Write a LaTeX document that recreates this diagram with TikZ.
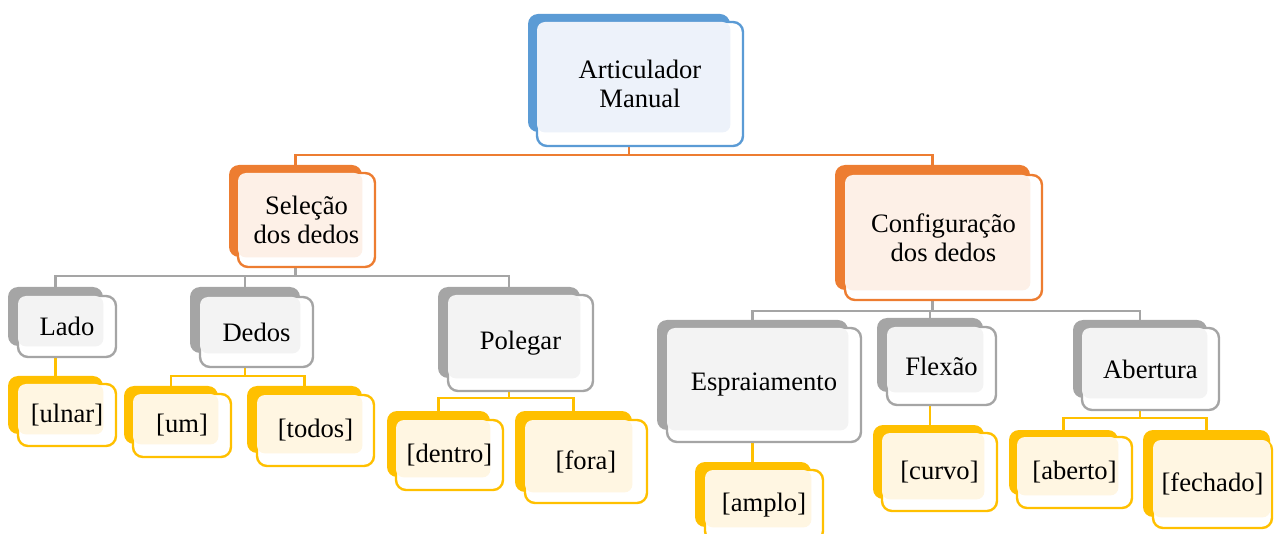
\documentclass[tikz,border=0pt]{standalone}
\usepackage{fontspec}
\setmainfont{Liberation Serif}
\usetikzlibrary{fit,calc,backgrounds}

\definecolor{bluedark}{RGB}{91,155,213}
\definecolor{bluelight}{RGB}{237,242,250}
\definecolor{orgdark}{RGB}{237,125,49}
\definecolor{orglight}{RGB}{253,240,231}
\definecolor{graydark}{RGB}{165,165,165}
\definecolor{graylight}{RGB}{243,243,243}
\definecolor{yeldark}{RGB}{255,192,0}
\definecolor{yellight}{RGB}{255,246,226}

\tikzset{
  backbox/.style={rectangle, rounded corners=5pt, inner sep=0pt, fill=#1dark},
  frontbox/.style={rectangle, rounded corners=5pt, inner sep=0pt, fill=white,
                   draw=#1dark, line width=1.2pt},
  boxtext/.style={align=center, inner sep=0pt,
                  font=\fontsize{13.3}{14.5}\selectfont},
  link/.style={draw=#1dark, line width=1.3pt},
}

% #1 name, #2 colour family, #3/#4 back corners, #5/#6 front corners, #7 text
\newcommand\smartbox[7]{%
  \node[fit={(#3) (#4)}, backbox=#2] (#1-b) {};
  \node[fit={(#5) (#6)}, frontbox=#2] (#1) {};
  \fill[#2light, rounded corners=4pt]
    ([shift={(0.6pt,-0.6pt)}]#1.north west) rectangle (#1-b.south east);
  \node[boxtext] (#1-t) at (#1) {#7};
}

\begin{document}
\begin{tikzpicture}[x=0.5pt,y=-0.5pt]
\useasboundingbox (0,0) rectangle (1275,534);
\clip (0,0) rectangle (1275,534);

% level 0 and 1
\smartbox{art}{blue}{528,14}{730,132}{537,22}{743,146}{Articulador\\Manual}
\smartbox{sel}{org}{229,165}{362,257}{238,173}{375,267}{Seleção\\dos dedos}
\smartbox{conf}{org}{835,165}{1030,290}{845,175}{1042,300}{Configuração\\dos dedos}

% level 2
\smartbox{lado}{gray}{8,287}{103,346}{18,296}{116,357}{Lado}
\smartbox{dedos}{gray}{190,287}{300,353}{200,297}{313,367}{Dedos}
\smartbox{pol}{gray}{438,287}{580,378}{448,295}{593,391}{Polegar}
\smartbox{esp}{gray}{657,320}{848,430}{667,328}{861,442}{Espraiamento}
\smartbox{flex}{gray}{877,318}{983,392}{887,327}{996,405}{Flexão}
\smartbox{abe}{gray}{1073,320}{1207,398}{1082,328}{1219,410}{Abertura}

% level 3
\smartbox{ulnar}{yel}{8,376}{103,434}{18,384}{116,446}{[ulnar]}
\smartbox{um}{yel}{124,386}{218,444}{133,394}{231,457}{[um]}
\smartbox{todos}{yel}{247,386}{362,453}{257,395}{374,466}{[todos]}
\smartbox{dentro}{yel}{387,411}{490,477}{396,420}{503,490}{[dentro]}
\smartbox{fora}{yel}{515,411}{632,492}{525,420}{647,503}{[fora]}
\smartbox{amplo}{yel}{695,462}{811,527}{705,470}{823,541}{[amplo]}
\smartbox{curvo}{yel}{873,425}{984,499}{882,433}{997,511}{[curvo]}
\smartbox{aberto}{yel}{1009,430}{1118,495}{1017,437}{1132,508}{[aberto]}
\smartbox{fechado}{yel}{1143,430}{1270,517}{1153,440}{1272,528}{[fechado]}

% bus levels of the connectors
\coordinate (busA) at (0,155);
\coordinate (busB) at (0,276);
\coordinate (busC) at (0,311);
\coordinate (busD) at (0,376);
\coordinate (busE) at (0,398);
\coordinate (busF) at (0,418);

\begin{scope}[on background layer]
  \draw[link=org] (art-b.south) -- (art-b.south |- busA);
  \draw[link=org] (sel-b.north) -- (sel-b.north |- busA) -| (conf-b.north);

  \draw[link=gray] (sel-b.south) -- (sel-b.south |- busB);
  \draw[link=gray] (lado-b.north) -- (lado-b.north |- busB) -| (pol-b.north);
  \draw[link=gray] (dedos-b.north) -- (dedos-b.north |- busB);

  \draw[link=gray] (conf-b.south) -- (conf-b.south |- busC);
  \draw[link=gray] (esp-b.north) -- (esp-b.north |- busC) -| (abe-b.north);
  \draw[link=gray] (flex-b.north) -- (flex-b.north |- busC);

  \draw[link=yel] (lado-b.south) -- (lado-b.south |- ulnar-b.north);
  \draw[link=yel] (dedos-b.south) -- (dedos-b.south |- busD);
  \draw[link=yel] (um-b.north) -- (um-b.north |- busD) -| (todos-b.north);
  \draw[link=yel] (pol-b.south) -- (pol-b.south |- busE);
  \draw[link=yel] (dentro-b.north) -- (dentro-b.north |- busE) -| (fora-b.north);
  \draw[link=yel] (esp-b.south) -- (esp-b.south |- amplo-b.north);
  \draw[link=yel] (flex-b.south) -- (flex-b.south |- curvo-b.north);
  \draw[link=yel] (abe-b.south) -- (abe-b.south |- busF);
  \draw[link=yel] (aberto-b.north) -- (aberto-b.north |- busF) -| (fechado-b.north);
\end{scope}
\end{tikzpicture}
\end{document}
